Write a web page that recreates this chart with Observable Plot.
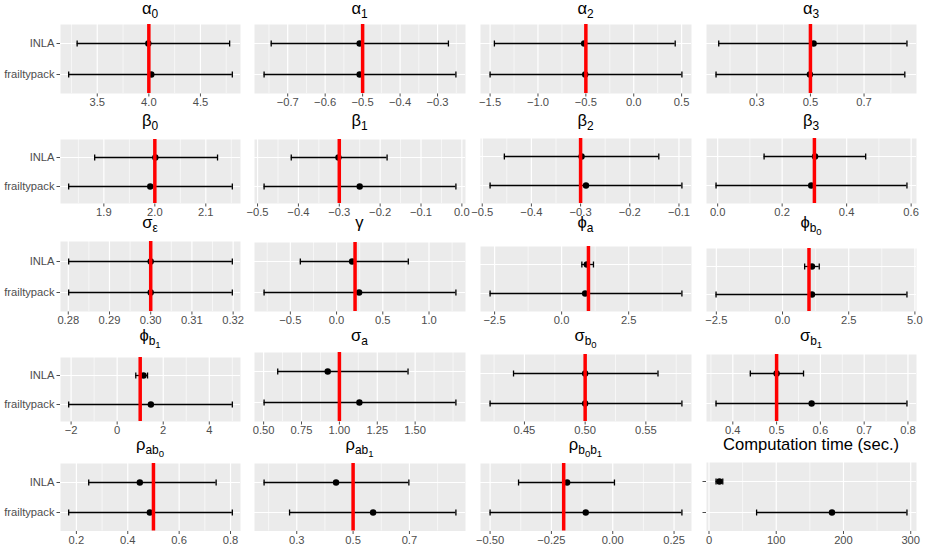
<!DOCTYPE html>
<html><head><meta charset="utf-8">
<script src="https://cdn.jsdelivr.net/npm/d3@7"></script>
<script src="https://cdn.jsdelivr.net/npm/@observablehq/plot@0.6"></script>
<style>
body{margin:0;background:#fff;}
#chart{position:relative;width:926px;height:545px;overflow:hidden;font-family:"Liberation Sans",Arial,sans-serif;}
.ttl{position:absolute;font-size:16.6px;line-height:12px;color:#000;text-align:center;white-space:nowrap;}
.ttl sub{font-size:0.72em;vertical-align:-0.32em;line-height:0;}
.ttl sub sub{font-size:0.8em;vertical-align:-0.3em;}
</style></head><body><div id="chart"></div>
<script>
// ---------- data ----------
const methods = ["INLA", "frailtypack"];
const panelTitles = [
  "α<sub>0</sub>", "α<sub>1</sub>", "α<sub>2</sub>", "α<sub>3</sub>",
  "β<sub>0</sub>", "β<sub>1</sub>", "β<sub>2</sub>", "β<sub>3</sub>",
  "σ<sub>ε</sub>", "γ", "ϕ<sub>a</sub>", "ϕ<sub>b<sub>0</sub></sub>",
  "ϕ<sub>b<sub>1</sub></sub>", "σ<sub>a</sub>", "σ<sub>b<sub>0</sub></sub>", "σ<sub>b<sub>1</sub></sub>",
  "ρ<sub>ab<sub>0</sub></sub>", "ρ<sub>ab<sub>1</sub></sub>", "ρ<sub>b<sub>0</sub>b<sub>1</sub></sub>", "Computation time (sec.)"
];
const inlaLow  = [3.305, -0.744, -1.455, 0.158, 1.882, -0.4175, -0.455, 0.144, 0.2801, -0.392, 0.754, 0.836, 0.808, 0.593, 0.441, 0.440, 0.248, 0.184, -0.384, 10.5];
const inlaEst  = [3.995, -0.508, -0.518, 0.512, 2.001, -0.302, -0.298, 0.302, 0.3000, 0.168, 0.940, 1.113, 1.144, 0.923, 0.500, 0.500, 0.447, 0.4395, -0.186, 15.5];
const inlaHigh = [4.783, -0.271, 0.433, 0.860, 2.123, -0.183, -0.141, 0.459, 0.3198, 0.776, 1.187, 1.387, 1.319, 1.453, 0.560, 0.5615, 0.744, 0.698, 0.007, 20.5];
const fpLow    = [3.223, -0.763, -1.500, 0.148, 1.831, -0.484, -0.484, -0.005, 0.2801, -0.784, -2.668, -2.511, -2.105, 0.503, 0.4217, 0.3617, 0.170, 0.2744, -0.500, 70.8];
const fpEst    = [4.024, -0.508, -0.507, 0.498, 1.991, -0.250, -0.289, 0.290, 0.3000, 0.244, 0.877, 1.113, 1.463, 1.132, 0.500, 0.580, 0.486, 0.571, -0.110, 182.9];
const fpHigh   = [4.809, -0.251, 0.503, 0.852, 2.152, -0.0146, -0.094, 0.587, 0.3198, 1.291, 4.485, 4.700, 5.000, 1.769, 0.5797, 0.7977, 0.807, 0.865, 0.282, 294.4];
const trueValues = [4.0, -0.5, -0.5, 0.5, 2.0, -0.3, -0.3, 0.3, 0.3, 0.2, 1.0, 1.0, 1.0, 1.0, 0.5, 0.5, 0.5, 0.5, -0.2, null];
const tickValues = [
  [3.5, 4.0, 4.5], [-0.7, -0.6, -0.5, -0.4, -0.3], [-1.5, -1.0, -0.5, 0.0, 0.5], [0.3, 0.5, 0.7],
  [1.9, 2.0, 2.1], [-0.5, -0.4, -0.3, -0.2, -0.1, 0.0], [-0.5, -0.4, -0.3, -0.2, -0.1], [0.0, 0.2, 0.4, 0.6],
  [0.28, 0.29, 0.30, 0.31, 0.32], [-0.5, 0.0, 0.5, 1.0], [-2.5, 0.0, 2.5], [-2.5, 0.0, 2.5, 5.0],
  [-2, 0, 2, 4], [0.5, 0.75, 1.0, 1.25, 1.5], [0.45, 0.5, 0.55], [0.4, 0.5, 0.6, 0.7, 0.8],
  [0.2, 0.4, 0.6, 0.8], [0.3, 0.5, 0.7], [-0.5, -0.25, 0.0, 0.25], [0, 100, 200, 300]
];
const tickLabels = [
  ["3.5", "4.0", "4.5"], ["−0.7", "−0.6", "−0.5", "−0.4", "−0.3"], ["−1.5", "−1.0", "−0.5", "0.0", "0.5"], ["0.3", "0.5", "0.7"],
  ["1.9", "2.0", "2.1"], ["−0.5", "−0.4", "−0.3", "−0.2", "−0.1", "0.0"], ["−0.5", "−0.4", "−0.3", "−0.2", "−0.1"], ["0.0", "0.2", "0.4", "0.6"],
  ["0.28", "0.29", "0.30", "0.31", "0.32"], ["−0.5", "0.0", "0.5", "1.0"], ["−2.5", "0.0", "2.5"], ["−2.5", "0.0", "2.5", "5.0"],
  ["−2", "0", "2", "4"], ["0.50", "0.75", "1.00", "1.25", "1.50"], ["0.45", "0.50", "0.55"], ["0.4", "0.5", "0.6", "0.7", "0.8"],
  ["0.2", "0.4", "0.6", "0.8"], ["0.3", "0.5", "0.7"], ["−0.50", "−0.25", "0.00", "0.25"], ["0", "100", "200", "300"]
];

// ---------- layout ----------
const colLeft = [60, 254, 480, 706], colRight = [240, 465, 691, 916];
const panelTop = [24, 24, 24, 24, 139, 139, 138, 138, 241, 242, 246, 248, 357, 352, 354, 354, 463, 463, 463, 462];
const rowBottom = [93, 203, 311, 421, 530.5];
const titleBaseline = [14.5, 127, 229, 341.5, 450.5];

// vertical error-bar cap drawn as a custom symbol (fixed half-height 3px)
const capSymbol = {draw(context) { context.moveTo(0, -3); context.lineTo(0, 3); }};

const chart = document.getElementById("chart");

for (let i = 0; i < 20; i++) {
  const col = i % 4, row = Math.floor(i / 4);
  const rows = [
    {method: "INLA", lo: inlaLow[i], est: inlaEst[i], hi: inlaHigh[i]},
    {method: "frailtypack", lo: fpLow[i], est: fpEst[i], hi: fpHigh[i]}
  ];
  const truth = trueValues[i];
  let lo = d3.min(rows, d => d.lo), hi = d3.max(rows, d => d.hi);
  if (truth != null) { lo = Math.min(lo, truth); hi = Math.max(hi, truth); }
  const pad = 0.05 * (hi - lo);
  const domain = [lo - pad, hi + pad];
  const ticks = tickValues[i];
  const labMap = new Map(ticks.map((v, k) => [v, tickLabels[i][k]]));
  const step = ticks[1] - ticks[0];
  const ext = [ticks[0] - step, ...ticks, ticks[ticks.length - 1] + step];
  const minor = [];
  for (let k = 0; k < ext.length - 1; k++) { minor.push(ext[k], ext[k] + step / 2); }
  minor.push(ext[ext.length - 1]);
  const minorIn = minor.filter(v => v > domain[0] && v < domain[1] && !ticks.some(t => Math.abs(t - v) < step * 1e-6));

  const ml = col === 0 ? 60 : 12, mr = 14, mt = 0, mb = 24;
  const pw = colRight[col] - colLeft[col];
  const ph = rowBottom[row] - panelTop[i];

  const marks = [
    Plot.frame({fill: "#EBEBEB", stroke: "none"}),
    Plot.ruleX(minorIn, {stroke: "white", strokeWidth: 0.6}),
    Plot.ruleX(ticks, {stroke: "white", strokeWidth: 1.2}),
    Plot.ruleY(methods, {stroke: "white", strokeWidth: 1.2}),
    Plot.ruleY(rows, {y: "method", x1: "lo", x2: "hi", stroke: "black", strokeWidth: 1.3}),
    Plot.dot(rows, {x: "lo", y: "method", symbol: capSymbol, fill: "none", stroke: "black", strokeWidth: 1.3}),
    Plot.dot(rows, {x: "hi", y: "method", symbol: capSymbol, fill: "none", stroke: "black", strokeWidth: 1.3}),
    Plot.dot(rows, {x: "est", y: "method", r: 3.2, fill: "black", stroke: "none"})
  ];
  if (truth != null) marks.push(Plot.ruleX([truth], {stroke: "#FF0000", strokeWidth: 3.5}));

  const showY = col === 0 || i === 19;
  const svg = Plot.plot({
    width: pw + ml + mr,
    height: ph + mt + mb,
    marginLeft: ml, marginRight: mr, marginTop: mt, marginBottom: mb,
    style: {background: "transparent", fontFamily: "'Liberation Sans', Arial, sans-serif", fontSize: "11.2px", color: "#4D4D4D", overflow: "visible"},
    x: {domain, ticks, tickFormat: d => labMap.get(d), tickSize: 3.5, tickPadding: 1.5, label: null},
    y: {type: "point", domain: methods, padding: 0.6, label: null, axis: showY ? "left" : null,
        tickSize: 3.5, tickPadding: 2.5, tickFormat: col === 0 ? (d => d) : (() => "")},
    marks
  });
  svg.style.position = "absolute";
  svg.style.left = (colLeft[col] - ml) + "px";
  svg.style.top = (panelTop[i] - mt) + "px";
  chart.appendChild(svg);

  const t = document.createElement("div");
  t.className = "ttl";
  t.innerHTML = panelTitles[i];
  t.style.left = colLeft[col] + "px";
  t.style.width = pw + "px";
  t.style.top = (titleBaseline[row] - 11.75) + "px";
  chart.appendChild(t);
}
</script></body></html>
